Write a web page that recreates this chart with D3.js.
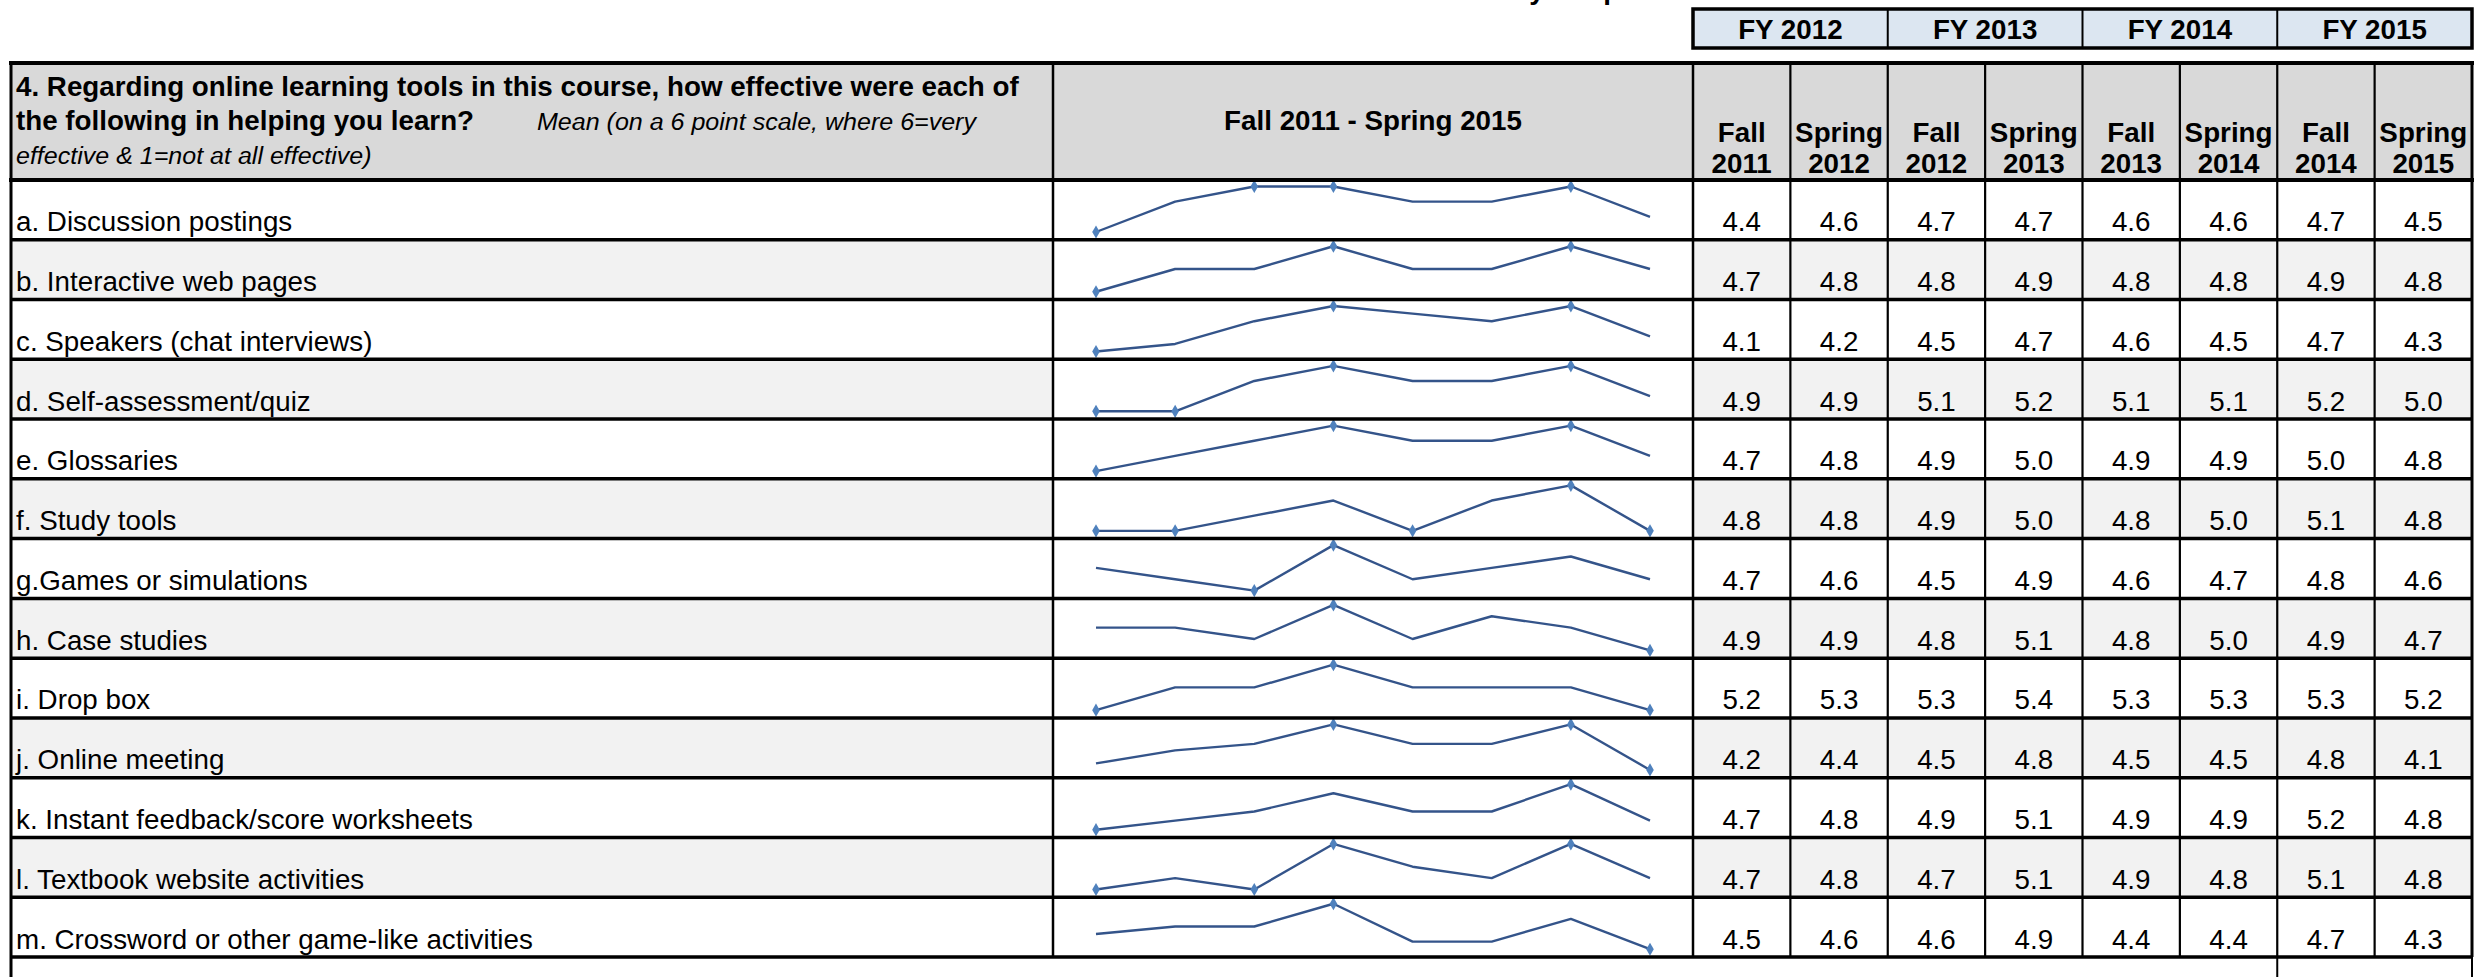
<!DOCTYPE html>
<html lang="en">
<head>
<meta charset="UTF-8">
<title>Online learning tools - effectiveness</title>
<style>
  body, html { margin: 0; width: 100%; height: 100%; background: #fff; }
  svg { display: block; }
  text { font-family: "Liberation Sans", Arial, Helvetica, sans-serif; fill: #000; }
</style>
</head>
<body>
<svg width="2483" height="977"></svg>
<script src="https://d3js.org/d3.v7.min.js"></script>
<script>
// ---- data ----
const fiscalYears = ["FY 2012", "FY 2013", "FY 2014", "FY 2015"];
const semesters = ["Fall 2011", "Spring 2012", "Fall 2012", "Spring 2013",
                   "Fall 2013", "Spring 2014", "Fall 2014", "Spring 2015"];
const items = [
  "a. Discussion postings",
  "b. Interactive web pages",
  "c. Speakers (chat interviews)",
  "d. Self-assessment/quiz",
  "e. Glossaries",
  "f. Study tools",
  "g.Games or simulations",
  "h. Case studies",
  "i. Drop box",
  "j. Online meeting",
  "k. Instant feedback/score worksheets",
  "l. Textbook website activities",
  "m. Crossword or other game-like activities"
];
const discussion   = [4.4, 4.6, 4.7, 4.7, 4.6, 4.6, 4.7, 4.5];
const webPages     = [4.7, 4.8, 4.8, 4.9, 4.8, 4.8, 4.9, 4.8];
const speakers     = [4.1, 4.2, 4.5, 4.7, 4.6, 4.5, 4.7, 4.3];
const selfQuiz     = [4.9, 4.9, 5.1, 5.2, 5.1, 5.1, 5.2, 5.0];
const glossaries   = [4.7, 4.8, 4.9, 5.0, 4.9, 4.9, 5.0, 4.8];
const studyTools   = [4.8, 4.8, 4.9, 5.0, 4.8, 5.0, 5.1, 4.8];
const games        = [4.7, 4.6, 4.5, 4.9, 4.6, 4.7, 4.8, 4.6];
const caseStudies  = [4.9, 4.9, 4.8, 5.1, 4.8, 5.0, 4.9, 4.7];
const dropBox      = [5.2, 5.3, 5.3, 5.4, 5.3, 5.3, 5.3, 5.2];
const onlineMeet   = [4.2, 4.4, 4.5, 4.8, 4.5, 4.5, 4.8, 4.1];
const feedback     = [4.7, 4.8, 4.9, 5.1, 4.9, 4.9, 5.2, 4.8];
const textbookSite = [4.7, 4.8, 4.7, 5.1, 4.9, 4.8, 5.1, 4.8];
const crossword    = [4.5, 4.6, 4.6, 4.9, 4.4, 4.4, 4.7, 4.3];
const means = [discussion, webPages, speakers, selfQuiz, glossaries, studyTools, games,
               caseStudies, dropBox, onlineMeet, feedback, textbookSite, crossword];

const questionBold = ["4. Regarding online learning tools in this course, how effective were each of",
                      "the following in helping you learn?"];
const questionNote = ["Mean (on a 6 point scale, where 6=very", "effective & 1=not at all effective)"];
const sparkTitle = "Fall 2011 - Spring 2015";

// ---- layout ----
const F = 27.5, SX = 1.01;
const L = 11, xLabelEnd = 1053, xSparkEnd = 1693, R = 2472;
const headTop = 63, headBottom = 180, tableBottom = 957, H = 977;
const fyTop = 9, fyBottom = 48;

const svg = d3.select("svg");

const yRow = d3.scaleBand().domain(items).range([headBottom, tableBottom]);
const xCol = d3.scaleBand().domain(semesters).range([xSparkEnd, R]);
const xFY = d3.scaleBand().domain(fiscalYears).range([xSparkEnd, R]);
const xSpark = d3.scalePoint().domain(semesters).range([1096, 1650]);

function label(g, x, y, str, opt = {}) {
  return g.append("text")
    .attr("transform", `translate(${x},${y}) scale(${SX},1)`)
    .attr("text-anchor", opt.anchor || "start")
    .style("font-size", (opt.size || F) + "px")
    .style("font-weight", opt.bold ? "bold" : "normal")
    .style("font-style", opt.italic ? "italic" : "normal")
    .text(str);
}

// page title, cut off by the top edge as in the scan (only descenders show)
label(svg, 1452, -1, "Survey Responses", { bold: true });

// ---- backgrounds ----
const bg = svg.append("g");
bg.append("rect").attr("x", L).attr("y", headTop).attr("width", R - L)
  .attr("height", headBottom - headTop).attr("fill", "#d9d9d9");
bg.append("rect").attr("x", xSparkEnd).attr("y", fyTop).attr("width", R - xSparkEnd)
  .attr("height", fyBottom - fyTop).attr("fill", "#dce6f1");

items.forEach((it, i) => {
  if (i % 2 === 1) {
    bg.append("rect").attr("x", L).attr("y", yRow(it)).attr("width", xLabelEnd - L)
      .attr("height", yRow.bandwidth()).attr("fill", "#f2f2f2");
    bg.append("rect").attr("x", xSparkEnd).attr("y", yRow(it)).attr("width", R - xSparkEnd)
      .attr("height", yRow.bandwidth()).attr("fill", "#f2f2f2");
  }
});

// ---- sparklines (each row scaled on its own, high/low points marked) ----
const spark = svg.append("g");
items.forEach((it, i) => {
  const vals = means[i];
  const lo = d3.min(vals), hi = d3.max(vals);
  const top = yRow(it);
  const y = d3.scaleLinear().domain([lo, hi]).range([top + 52, top + 6.5]);
  const pts = vals.map((v, j) => ({ x: xSpark(semesters[j]), y: y(v), v }));
  spark.append("path")
    .attr("d", d3.line().x(d => d.x).y(d => d.y)(pts))
    .attr("fill", "none")
    .attr("stroke", "#34548a")
    .attr("stroke-width", 2.4)
    .attr("stroke-linejoin", "round");
  spark.selectAll(null)
    .data(pts.filter(p => p.v === lo || p.v === hi))
    .join("path")
    .attr("transform", p => `translate(${p.x},${p.y})`)
    .attr("d", d3.symbol(d3.symbolDiamond, 50)())
    .attr("fill", "#4f81bd");
});

// ---- texts ----
const tx = svg.append("g");
label(tx, 16, 96, questionBold[0], { bold: true });
label(tx, 16, 130, questionBold[1], { bold: true });
label(tx, 537, 130, questionNote[0], { italic: true, size: 24.8 });
label(tx, 16, 164, questionNote[1], { italic: true, size: 24.8 });
label(tx, (xLabelEnd + xSparkEnd) / 2, 130, sparkTitle, { bold: true, anchor: "middle" });

fiscalYears.forEach(fy => {
  label(tx, xFY(fy) + xFY.bandwidth() / 2, 39, fy, { bold: true, anchor: "middle" });
});
semesters.forEach(s => {
  const [term, yr] = s.split(" ");
  const cx = xCol(s) + xCol.bandwidth() / 2;
  label(tx, cx, 142, term, { bold: true, anchor: "middle" });
  label(tx, cx, 173, yr, { bold: true, anchor: "middle" });
});

items.forEach((it, i) => {
  const base = yRow(it) + yRow.bandwidth() - 8.5;
  label(tx, 16, base, it);
  means[i].forEach((v, j) => {
    label(tx, xCol(semesters[j]) + xCol.bandwidth() / 2, base, v.toFixed(1), { anchor: "middle" });
  });
});

// ---- grid ----
const grid = svg.append("g").attr("stroke", "#000").attr("fill", "none");
function hline(x1, x2, y, w) {
  grid.append("line").attr("x1", x1).attr("x2", x2).attr("y1", y).attr("y2", y).attr("stroke-width", w);
}
function vline(x, y1, y2, w) {
  grid.append("line").attr("x1", x).attr("x2", x).attr("y1", y1).attr("y2", y2).attr("stroke-width", w);
}

// FY band
grid.append("rect").attr("x", xSparkEnd).attr("y", fyTop).attr("width", R - xSparkEnd)
  .attr("height", fyBottom - fyTop).attr("stroke-width", 3.5);
fiscalYears.slice(1).forEach(fy => vline(xFY(fy), fyTop, fyBottom, 2));

// table
hline(L - 2, R + 2, headTop, 4);
hline(L - 2, R + 2, headBottom, 4);
items.forEach(it => hline(L, R, yRow(it) + yRow.bandwidth(), 3.5));
vline(L, headTop, H, 3);
vline(xLabelEnd, headTop, tableBottom, 2.5);
vline(xSparkEnd, headTop, tableBottom, 2.5);
semesters.slice(1).forEach(s => vline(xCol(s), headTop, tableBottom, 2.2));
vline(R, headTop, tableBottom, 3);

// box below the last row
vline(xCol("Fall 2014"), tableBottom, H, 2);
vline(R, tableBottom, H, 2);
</script>
</body>
</html>
